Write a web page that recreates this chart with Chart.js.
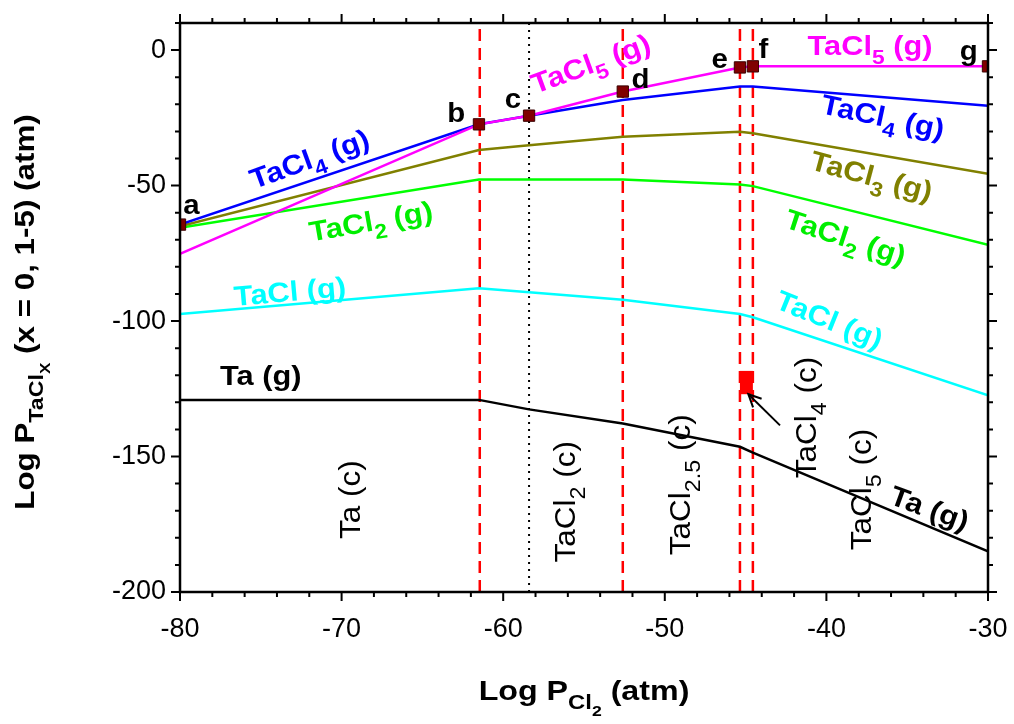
<!DOCTYPE html>
<html>
<head>
<meta charset="utf-8">
<script src="https://cdn.jsdelivr.net/npm/chart.js@4.4.0/dist/chart.umd.min.js"></script>
<style>
  body { margin: 0; background: #fff; }
  #wrap { width: 1014px; height: 724px; }
</style>
</head>
<body>
<div id="wrap"><canvas id="mycanvas" width="1014" height="724"></canvas></div>
<script>
// log P(Cl2) at each break point, and log P of each gas species there
var pCl2  = [-80, -61.5, -58.4, -52.6, -45.35, -44.55, -30];
var taCl5 = [-75.2, -27.4, -24.2, -15.3, -6.4, -6.0, -6.0];
var taCl4 = [-64.4, -27.4, -24.2, -18.4, -13.4, -13.4, -20.5];
var taCl3 = [-65.0, -36.9, -35.1, -32.0, -30.1, -30.7, -45.6];
var taCl2 = [-65.6, -47.8, -47.8, -47.8, -49.6, -50.2, -71.9];
var taCl1 = [-97.4, -87.9, -89.4, -92.1, -97.4, -98.6, -127.4];
var taGas = [-129.1, -129.1, -132.6, -137.8, -146.4, -148.6, -185.0];

// labelled points a..g
var pointNames = ['a', 'b', 'c', 'd', 'e', 'f', 'g'];
var pointY = [-64.4, -27.4, -24.2, -15.3, -6.4, -6.0, -6.0];

// phase boundaries
var redBounds = [-61.45, -52.6, -45.35, -44.55];
var dotBounds = [-58.4];

// TaCl4(c) stability window
var boxX = [-45.35, -44.55];
var boxY = [-127.0, -118.4];

var xRange = [-80, -30];
var yRange = [-200, 10];

var fontFam = '"Liberation Sans", Arial, sans-serif';

// text annotations (x,y in data units, a = angle in degrees)
var gasLabels = [
	{t: 'TaCl_{4} (g)', x: -72.0, y: -40.0, a: -20, c: '#0000ff'},
	{t: 'TaCl_{2} (g)', x: -68.2, y: -63.0, a: -10, c: '#00ee00'},
	{t: 'TaCl (g)', x: -73.2, y: -88.9, a: -5, c: '#00ffff'},
	{t: 'Ta (g)', x: -75.0, y: -120.0, a: 0, c: '#000000'},
	{t: 'TaCl_{5} (g)', x: -54.6, y: -4.8, a: -20, c: '#ff00ff'},
	{t: 'TaCl_{5} (g)', x: -37.3, y: 1.9, a: 0, c: '#ff00ff'},
	{t: 'TaCl_{4} (g)', x: -36.5, y: -24.4, a: 12, c: '#0000ff'},
	{t: 'TaCl_{3} (g)', x: -37.2, y: -46.3, a: 15, c: '#808000'},
	{t: 'TaCl_{2} (g)', x: -38.8, y: -68.9, a: 18, c: '#00ee00'},
	{t: 'TaCl (g)', x: -39.8, y: -99.3, a: 22, c: '#00ffff'},
	{t: 'Ta (g)', x: -33.6, y: -168.9, a: 20, c: '#000000'}
];
var letterPos = [
	[-79.3, -56.7], [-62.9, -22.7], [-59.4, -17.8], [-51.5, -10.4],
	[-46.6, -3.0], [-43.9, 0.7], [-31.2, 0.1]
];
var phaseLabels = [
	{t: 'Ta (c)', x: -69.5, y: -165.9},
	{t: 'TaCl_{2} (c)', x: -56.2, y: -166.7},
	{t: 'TaCl_{2.5} (c)', x: -49.1, y: -160.4},
	{t: 'TaCl_{4} (c)', x: -41.3, y: -135.6},
	{t: 'TaCl_{5} (c)', x: -37.9, y: -162.2}
];
var arrowFrom = [-42.87, -138.5];
var arrowTo = [-44.83, -127.0];

function pts(xs, ys) {
	var out = [];
	for (var i = 0; i < xs.length; i++) out.push({x: xs[i], y: ys[i]});
	return out;
}
function vline(x) {
	return [{x: x, y: yRange[0]}, {x: x, y: yRange[1]}];
}

// split "TaCl_{2.5} (c)" into [text, level] pieces
function parseRich(str) {
	var out = [], level = 0, buf = '';
	for (var i = 0; i < str.length; i++) {
		var ch = str[i];
		if (ch === '_' && str[i + 1] === '{') {
			if (buf) out.push([buf, level]);
			buf = ''; level++; i++;
		} else if (ch === '}') {
			if (buf) out.push([buf, level]);
			buf = ''; level--;
		} else buf += ch;
	}
	if (buf) out.push([buf, level]);
	return out;
}

var SUB = 0.74;

function drawRich(ctx, str, x, y, o) {
	var segs = parseRich(str);
	var size = o.size, weight = o.weight || 'bold';
	var total = 0, widths = [];
	for (var i = 0; i < segs.length; i++) {
		var fs = size * Math.pow(SUB, segs[i][1]);
		ctx.font = weight + ' ' + fs + 'px ' + fontFam;
		widths.push(ctx.measureText(segs[i][0]).width);
		total += widths[i];
	}
	ctx.save();
	ctx.translate(x, y);
	ctx.rotate((o.angle || 0) * Math.PI / 180);
	ctx.scale(o.stretch || 1, 1);
	ctx.fillStyle = o.color || '#000';
	ctx.textBaseline = 'alphabetic';
	ctx.textAlign = 'left';
	var cx = -total / 2;
	var base = size * 0.36;
	for (var j = 0; j < segs.length; j++) {
		var lvl = segs[j][1];
		var fs2 = size * Math.pow(SUB, lvl);
		var drop = 0;
		for (var k = 0; k < lvl; k++) drop += size * Math.pow(SUB, k) * 0.32;
		ctx.font = weight + ' ' + fs2 + 'px ' + fontFam;
		ctx.fillText(segs[j][0], cx, base + drop);
		cx += widths[j];
	}
	ctx.restore();
}

var decor = {
	id: 'decor',
	afterDatasetsDraw: function(chart) {
		var ctx = chart.ctx, sx = chart.scales.x, sy = chart.scales.y, ca = chart.chartArea;
		function X(v) { return sx.getPixelForValue(v); }
		function Y(v) { return sy.getPixelForValue(v); }

		// TaCl4(c) box
		ctx.fillStyle = '#ff0000';
		ctx.fillRect(X(boxX[0]), Y(boxY[1]), X(boxX[1]) - X(boxX[0]), Y(boxY[0]) - Y(boxY[1]));

		// arrow
		var x0 = X(arrowFrom[0]), y0 = Y(arrowFrom[1]), x1 = X(arrowTo[0]), y1 = Y(arrowTo[1]);
		ctx.strokeStyle = '#000'; ctx.lineWidth = 2;
		ctx.beginPath(); ctx.moveTo(x0, y0); ctx.lineTo(x1, y1); ctx.stroke();
		var ang = Math.atan2(y1 - y0, x1 - x0);
		ctx.beginPath();
		ctx.moveTo(x1 - 14 * Math.cos(ang - 0.45), y1 - 14 * Math.sin(ang - 0.45));
		ctx.lineTo(x1, y1);
		ctx.lineTo(x1 - 14 * Math.cos(ang + 0.45), y1 - 14 * Math.sin(ang + 0.45));
		ctx.stroke();

		// frame
		ctx.lineWidth = 2.5;
		ctx.strokeRect(ca.left, ca.top, ca.right - ca.left, ca.bottom - ca.top);

		// ticks, major and minor, on all four sides
		ctx.lineWidth = 2;
		ctx.beginPath();
		for (var v = xRange[0]; v <= xRange[1]; v += 2) {
			var px = X(v), len = (v % 10 === 0) ? 9 : 5;
			ctx.moveTo(px, ca.bottom); ctx.lineTo(px, ca.bottom + len);
			ctx.moveTo(px, ca.top); ctx.lineTo(px, ca.top - len);
		}
		for (var w = yRange[0]; w <= yRange[1]; w += 10) {
			var py = Y(w), len2 = (w % 50 === 0) ? 9 : 5;
			ctx.moveTo(ca.left, py); ctx.lineTo(ca.left - len2, py);
			ctx.moveTo(ca.right, py); ctx.lineTo(ca.right + len2, py);
		}
		ctx.stroke();

		// gas species labels
		gasLabels.forEach(function(l) {
			drawRich(ctx, l.t, X(l.x), Y(l.y), {size: 28, angle: l.a, color: l.c, stretch: 1.1});
		});
		// point letters
		for (var i = 0; i < pointNames.length; i++) {
			drawRich(ctx, pointNames[i], X(letterPos[i][0]), Y(letterPos[i][1]), {size: 28, stretch: 1.05});
		}
		// condensed phase labels
		phaseLabels.forEach(function(l) {
			drawRich(ctx, l.t, X(l.x), Y(l.y), {size: 30, weight: 'normal', angle: -90, stretch: 1.05});
		});

		// axis titles
		drawRich(ctx, 'Log P_{Cl_{2}} (atm)', (ca.left + ca.right) / 2, 690, {size: 28, stretch: 1.15});
		drawRich(ctx, 'Log P_{TaCl_{X}} (x = 0, 1-5) (atm)', 24, 312, {size: 28, angle: -90, stretch: 1.12});
	}
};

function lineSet(ys, color) {
	return {type: 'line', data: pts(pCl2, ys), borderColor: color, borderWidth: 2.5,
		pointRadius: 0, tension: 0, fill: false};
}

var datasets = [
	{type: 'scatter', data: pts(pCl2, pointY), pointStyle: 'rect', pointRadius: 8,
		backgroundColor: '#800000', borderColor: '#3a0000', borderWidth: 1},
	lineSet(taCl5, '#ff00ff'),
	lineSet(taCl4, '#0000ff'),
	lineSet(taCl3, '#808000'),
	lineSet(taCl2, '#00ff00'),
	lineSet(taCl1, '#00ffff'),
	lineSet(taGas, '#000000')
];
redBounds.forEach(function(x) {
	datasets.push({type: 'line', data: vline(x), borderColor: '#ff0000', borderWidth: 2.5,
		borderDash: [12, 7], pointRadius: 0});
});
dotBounds.forEach(function(x) {
	datasets.push({type: 'line', data: vline(x), borderColor: '#000000', borderWidth: 2,
		borderDash: [2, 5], pointRadius: 0});
});

var ctx = document.getElementById('mycanvas');
var chart = new Chart(ctx, {
	type: 'scatter',
	data: {datasets: datasets},
	plugins: [decor],
	options: {
		responsive: false,
		animation: false,
		layout: {padding: {top: 23, right: 26, left: 0, bottom: 0}},
		plugins: {legend: {display: false}, tooltip: {enabled: false}},
		scales: {
			x: {
				type: 'linear', min: xRange[0], max: xRange[1],
				grid: {display: false, drawTicks: false},
				border: {display: false},
				ticks: {stepSize: 10, color: '#000', padding: 21, font: {size: 27, family: fontFam}},
				afterFit: function(s) { s.height = 132; s.paddingLeft = 0; s.paddingRight = 0; }
			},
			y: {
				type: 'linear', min: yRange[0], max: yRange[1],
				grid: {display: false, drawTicks: false},
				border: {display: false},
				ticks: {stepSize: 50, includeBounds: false, color: '#000', padding: 14,
					font: {size: 27, family: fontFam},
					callback: function(v) { return v % 50 === 0 ? String(v) : ''; }},
				afterFit: function(s) { s.width = 180; s.paddingTop = 0; s.paddingBottom = 0; }
			}
		}
	}
});
</script>
</body>
</html>
